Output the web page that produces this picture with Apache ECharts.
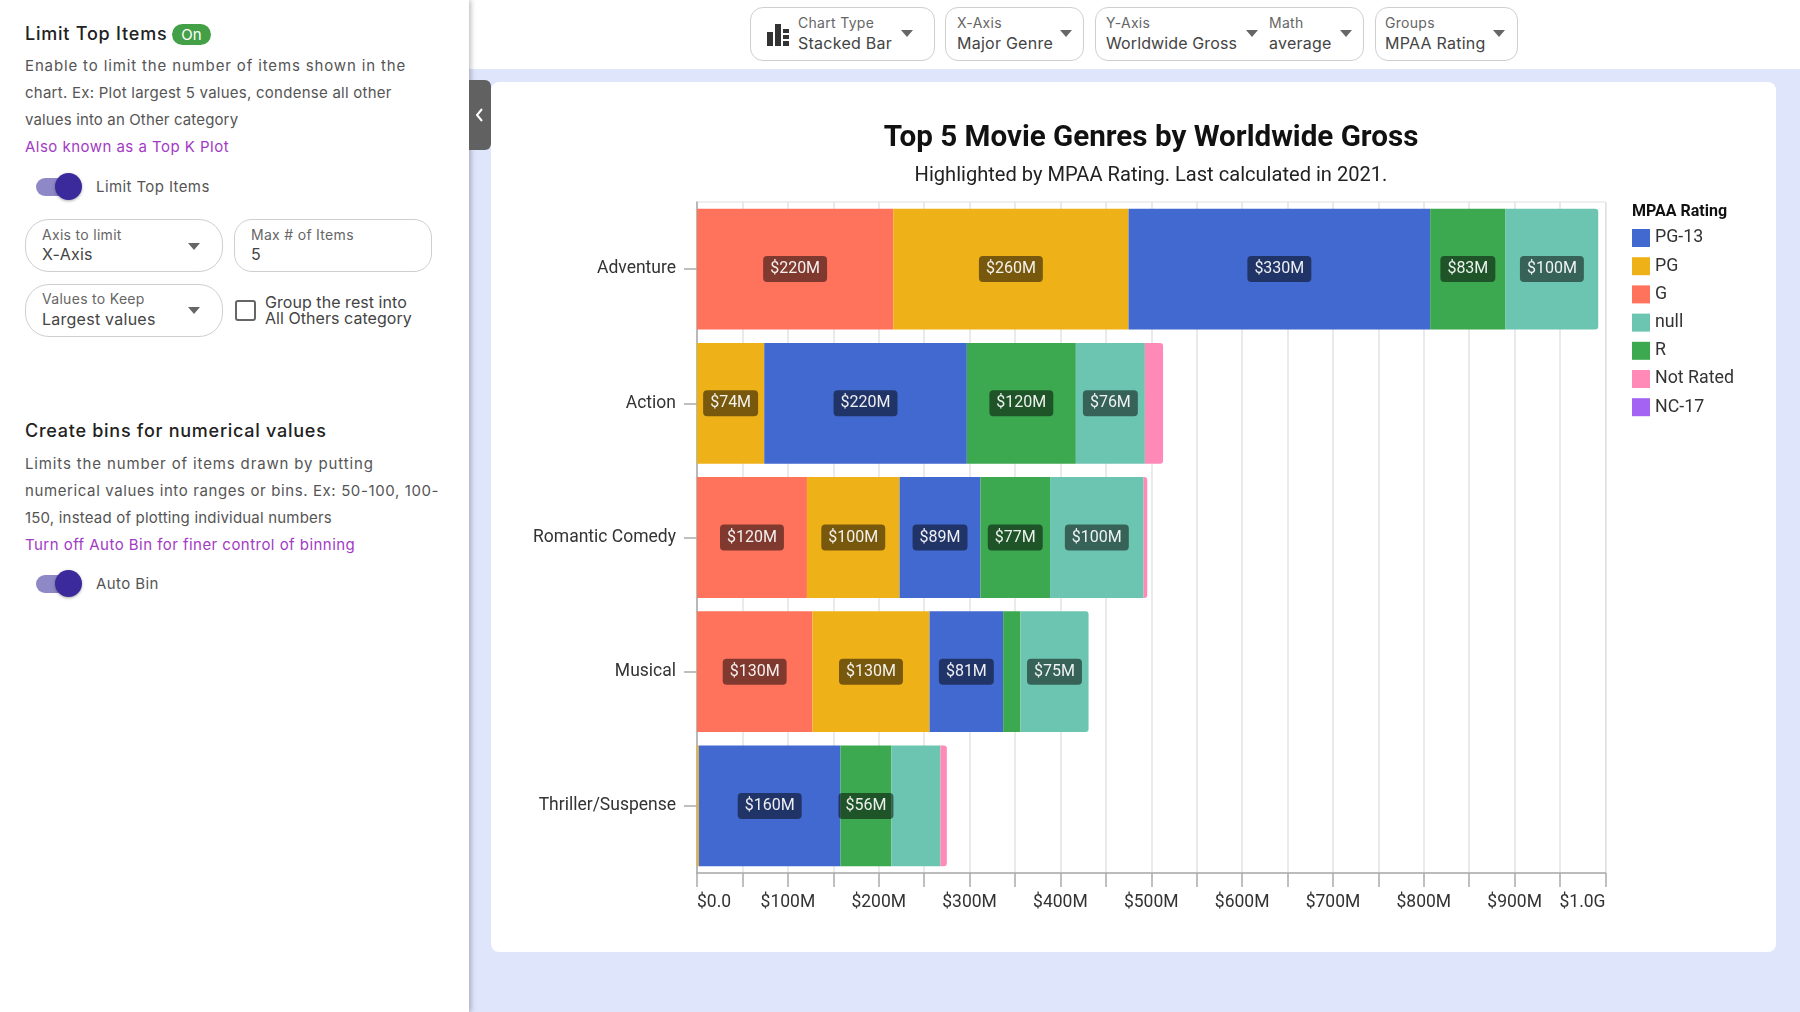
<!DOCTYPE html>
<html>
<head>
<meta charset="utf-8">
<title>Top 5 Movie Genres by Worldwide Gross</title>
<script src="https://cdn.jsdelivr.net/npm/echarts@6/dist/echarts.min.js"></script>
<style>
    html, body { margin: 0; padding: 0; width: 1800px; height: 1012px; overflow: hidden; background: #fff; font-family: Inter, sans-serif; color: #444; }
    .abs, .abs * { box-sizing: border-box; }
    .abs { position: absolute; white-space: nowrap; }

    /* 背景 */
    #back { left: 469px; top: 69px; width: 1331px; height: 943px; background: #dfe5fb; }
    #card { left: 491px; top: 82px; width: 1285px; height: 870px; background: #fff; border-radius: 8px; }
    #chart { position: absolute; left: 0; top: 0; width: 1285px; height: 870px; }
    #panel { left: 0; top: 0; width: 469px; height: 1012px; background: #fff; box-shadow: 2px 0 5px rgba(0,0,0,.25); }
    #handle { left: 469px; top: 80px; width: 22px; height: 70px; background: #616161; border-radius: 0 6px 6px 0; }
    #handle svg { position: absolute; left: 5px; top: 27px; }

    /* 左侧面板 */
    .h { font-size: 18px; font-weight: 500; color: #222; line-height: 24px; left: 25px; }
    .p { font-size: 15px; color: #555; line-height: 27px; left: 25px; }
    .link { color: #a23bc4; }
    .badge { background: #43a047; color: #fff; border-radius: 11px; font-size: 15px; line-height: 21px; text-align: center; }
    .track { width: 38px; height: 18px; border-radius: 9px; background: #8f88c6; }
    .thumb { width: 27px; height: 27px; border-radius: 50%; background: #3a2a9c; box-shadow: 0 1px 3px rgba(0,0,0,.35); }
    .box { border: 1px solid #cfcfcf; background: #fff; }
    .lab { font-size: 14px; color: #666; letter-spacing: .3px; line-height: 18px; }
    .val { font-size: 16px; color: #444; letter-spacing: .25px; line-height: 20px; }
    .arrow { width: 0; height: 0; border-left: 6.5px solid transparent; border-right: 6.5px solid transparent; border-top: 7px solid #666; }
</style>
</head>
<body>
<div class="abs" id="back"></div>
<div class="abs" id="card"><div id="chart"></div></div>

<div class="abs" id="panel"></div>
<div class="abs" id="handle"><svg width="11" height="16" viewBox="0 0 11 16"><path d="M8 2 L3 8 L8 14" fill="none" stroke="#fff" stroke-width="2"/></svg></div>

<!-- 左侧：Limit Top Items -->
<div class="abs h" style="top:22px;letter-spacing:.78px">Limit Top Items</div>
<div class="abs badge" style="left:172px;top:24px;width:39px">On</div>
<div class="abs p" style="top:52px;letter-spacing:.86px">Enable to limit the number of items shown in the</div>
<div class="abs p" style="top:79px;letter-spacing:.25px">chart. Ex: Plot largest 5 values, condense all other</div>
<div class="abs p" style="top:106px;letter-spacing:.14px">values into an Other category</div>
<div class="abs p link" style="top:133px;letter-spacing:.47px">Also known as a Top K Plot</div>
<div class="abs track" style="left:36px;top:178px"></div>
<div class="abs thumb" style="left:55px;top:173px"></div>
<div class="abs p" style="left:96px;top:173px;letter-spacing:.4px">Limit Top Items</div>

<div class="abs box" style="left:25px;top:219px;width:198px;height:53px;border-radius:24px"></div>
<div class="abs lab" style="left:42px;top:226px">Axis to limit</div>
<div class="abs val" style="left:42px;top:244px">X-Axis</div>
<div class="abs arrow" style="left:188px;top:243px"></div>
<div class="abs box" style="left:234px;top:219px;width:198px;height:53px;border-radius:18px"></div>
<div class="abs lab" style="left:251px;top:226px">Max # of Items</div>
<div class="abs val" style="left:251px;top:244px">5</div>
<div class="abs box" style="left:25px;top:284px;width:198px;height:53px;border-radius:24px"></div>
<div class="abs lab" style="left:42px;top:290px">Values to Keep</div>
<div class="abs val" style="left:42px;top:309px">Largest values</div>
<div class="abs arrow" style="left:188px;top:307px"></div>
<div class="abs" style="left:235px;top:300px;width:21px;height:21px;border:2.5px solid #666;border-radius:3px"></div>
<div class="abs val" style="left:265px;top:292px;letter-spacing:.05px">Group the rest into</div>
<div class="abs val" style="left:265px;top:308px;letter-spacing:.05px">All Others category</div>

<!-- 左侧：bins -->
<div class="abs h" style="top:419px;letter-spacing:.73px">Create bins for numerical values</div>
<div class="abs p" style="top:450px;letter-spacing:.86px">Limits the number of items drawn by putting</div>
<div class="abs p" style="top:477px;letter-spacing:.61px">numerical values into ranges or bins. Ex: 50-100, 100-</div>
<div class="abs p" style="top:504px;letter-spacing:.19px">150, instead of plotting individual numbers</div>
<div class="abs p link" style="top:531px;letter-spacing:.46px">Turn off Auto Bin for finer control of binning</div>
<div class="abs track" style="left:36px;top:575px"></div>
<div class="abs thumb" style="left:55px;top:570px"></div>
<div class="abs p" style="left:96px;top:570px;letter-spacing:.4px">Auto Bin</div>

<!-- 顶部工具栏 -->
<div class="abs box" style="left:750px;top:7px;width:185px;height:54px;border-radius:13px"></div>
<svg class="abs" style="left:767px;top:24px" width="23" height="22" viewBox="0 0 23 22"><path d="M0 8h6v14H0zM8 0h6v22H8zM16 5h6v4h-6zM16 11h6v4h-6zM16 17h6v5h-6z" fill="#333"/></svg>
<div class="abs lab" style="left:798px;top:14px">Chart Type</div>
<div class="abs val" style="left:798px;top:33px">Stacked Bar</div>
<div class="abs arrow" style="left:901px;top:30px"></div>
<div class="abs box" style="left:945px;top:7px;width:139px;height:54px;border-radius:13px"></div>
<div class="abs lab" style="left:957px;top:14px">X-Axis</div>
<div class="abs val" style="left:957px;top:33px">Major Genre</div>
<div class="abs arrow" style="left:1060px;top:30px"></div>
<div class="abs box" style="left:1095px;top:7px;width:269px;height:54px;border-radius:13px"></div>
<div class="abs lab" style="left:1106px;top:14px">Y-Axis</div>
<div class="abs val" style="left:1106px;top:33px;letter-spacing:.12px">Worldwide Gross</div>
<div class="abs arrow" style="left:1246px;top:30px"></div>
<div class="abs lab" style="left:1269px;top:14px">Math</div>
<div class="abs val" style="left:1269px;top:33px">average</div>
<div class="abs arrow" style="left:1340px;top:30px"></div>
<div class="abs box" style="left:1375px;top:7px;width:143px;height:54px;border-radius:13px"></div>
<div class="abs lab" style="left:1385px;top:14px">Groups</div>
<div class="abs val" style="left:1385px;top:33px">MPAA Rating</div>
<div class="abs arrow" style="left:1493px;top:30px"></div>

<script type="text/javascript">
    // 数据
    var genres = ['Adventure', 'Action', 'Romantic Comedy', 'Musical', 'Thriller/Suspense'];
    var legendOrder = ['PG-13', 'PG', 'G', 'null', 'R', 'Not Rated', 'NC-17'];
    var xTickLabels = ['$0.0', '$100M', '$200M', '$300M', '$400M', '$500M', '$600M', '$700M', '$800M', '$900M', '$1.0G'];

    // 单位：百万美元，堆叠顺序 G, PG, PG-13, R, null, Not Rated, NC-17
    var gValues = [216, 0, 121, 127, 0];
    var pgValues = [259, 74, 102, 129, 2];
    var pg13Values = [332, 223, 89, 81, 156];
    var rValues = [83, 120, 76.6, 19, 56];
    var nullValues = [102, 76, 103, 75, 54];
    var notRatedValues = [0, 20, 4, 0, 7];
    var nc17Values = [0, 0, 0, 0, 0];

    var stackNames = ['G', 'PG', 'PG-13', 'R', 'null', 'Not Rated', 'NC-17'];
    var stackValues = [gValues, pgValues, pg13Values, rValues, nullValues, notRatedValues, nc17Values];
    var stackColors = ['#ff725c', '#efb118', '#4269d0', '#3ca951', '#6cc5b0', '#ff8ab7', '#a463f2'];

    // 太窄的色块不显示标签
    var minLabelValue = 55;

    function lastSeriesIndex(catIndex) {
        var last = 0;
        for (var s = 0; s < stackValues.length; s++) {
            if (stackValues[s][catIndex] > 0) last = s;
        }
        return last;
    }

    var series = [];
    for (var s = 0; s < stackNames.length; s++) {
        var items = [];
        for (var c = 0; c < genres.length; c++) {
            var v = stackValues[s][c];
            items.push({
                value: v,
                label: {show: v >= minLabelValue},
                itemStyle: {borderRadius: lastSeriesIndex(c) == s ? [0, 3, 3, 0] : 0}
            });
        }
        series.push({
            name: stackNames[s],
            type: 'bar',
            stack: 'gross',
            barWidth: '90%',
            itemStyle: {color: stackColors[s]},
            label: {
                position: 'inside',
                color: 'rgba(255,255,255,0.92)',
                fontFamily: 'Roboto',
                fontSize: 16,
                backgroundColor: 'rgba(0,0,0,0.5)',
                borderRadius: 4,
                padding: [5, 7, 5, 7],
                formatter: function(p) {
                    return '$' + Number(p.value.toPrecision(2)) + 'M';
                }
            },
            data: items
        });
    }

    var myChart = echarts.init(document.getElementById('chart'));
    var option = {
        animation: false,
        textStyle: {fontFamily: 'Roboto'},
        title: [{
            text: 'Top 5 Movie Genres by Worldwide Gross',
            subtext: 'Highlighted by MPAA Rating. Last calculated in 2021.',
            left: 655,
            top: 37,
            textAlign: 'center',
            itemGap: 12,
            textStyle: {fontFamily: 'Roboto', fontSize: 29.6, fontWeight: 'bold', color: '#111'},
            subtextStyle: {fontFamily: 'Roboto', fontSize: 20.1, color: '#222'}
        }, {
            text: 'MPAA Rating',
            left: 1141,
            top: 122,
            padding: 0,
            textStyle: {fontFamily: 'Roboto', fontSize: 16, fontWeight: 'bold', color: '#111'}
        }],
        legend: {
            data: legendOrder,
            orient: 'vertical',
            left: 1141,
            top: 147,
            padding: 0,
            icon: 'rect',
            itemWidth: 18,
            itemHeight: 18,
            itemGap: 10.2,
            selectedMode: false,
            textStyle: {fontFamily: 'Roboto', fontSize: 17.8, color: '#333'}
        },
        grid: {
            show: true,
            borderColor: '#e0e0e0',
            left: 206,
            top: 120,
            width: 908.5,
            height: 671
        },
        xAxis: {
            type: 'value',
            min: 0,
            max: 1000,
            interval: 50,
            axisLine: {show: true, lineStyle: {color: '#aaa', width: 1.5}},
            axisTick: {show: true, length: 14, lineStyle: {color: '#aaa', width: 1.5}},
            splitLine: {show: true, lineStyle: {color: '#e3e3e3', width: 1.5}},
            axisLabel: {
                margin: 21,
                fontFamily: 'Roboto',
                fontSize: 17.5,
                color: '#333',
                alignMinLabel: 'left',
                alignMaxLabel: 'right',
                hideOverlap: false,
                formatter: function(val) {
                    return val % 100 == 0 ? xTickLabels[val / 100] : '';
                }
            }
        },
        yAxis: {
            type: 'category',
            inverse: true,
            data: genres,
            axisLine: {show: true, lineStyle: {color: '#aaa', width: 1.5}},
            axisTick: {show: true, alignWithLabel: true, length: 13, lineStyle: {color: '#aaa', width: 1.5}},
            axisLabel: {margin: 21, fontFamily: 'Roboto', fontSize: 17.5, color: '#333'}
        },
        series: series
    };
    myChart.setOption(option);
</script>
</body>
</html>
